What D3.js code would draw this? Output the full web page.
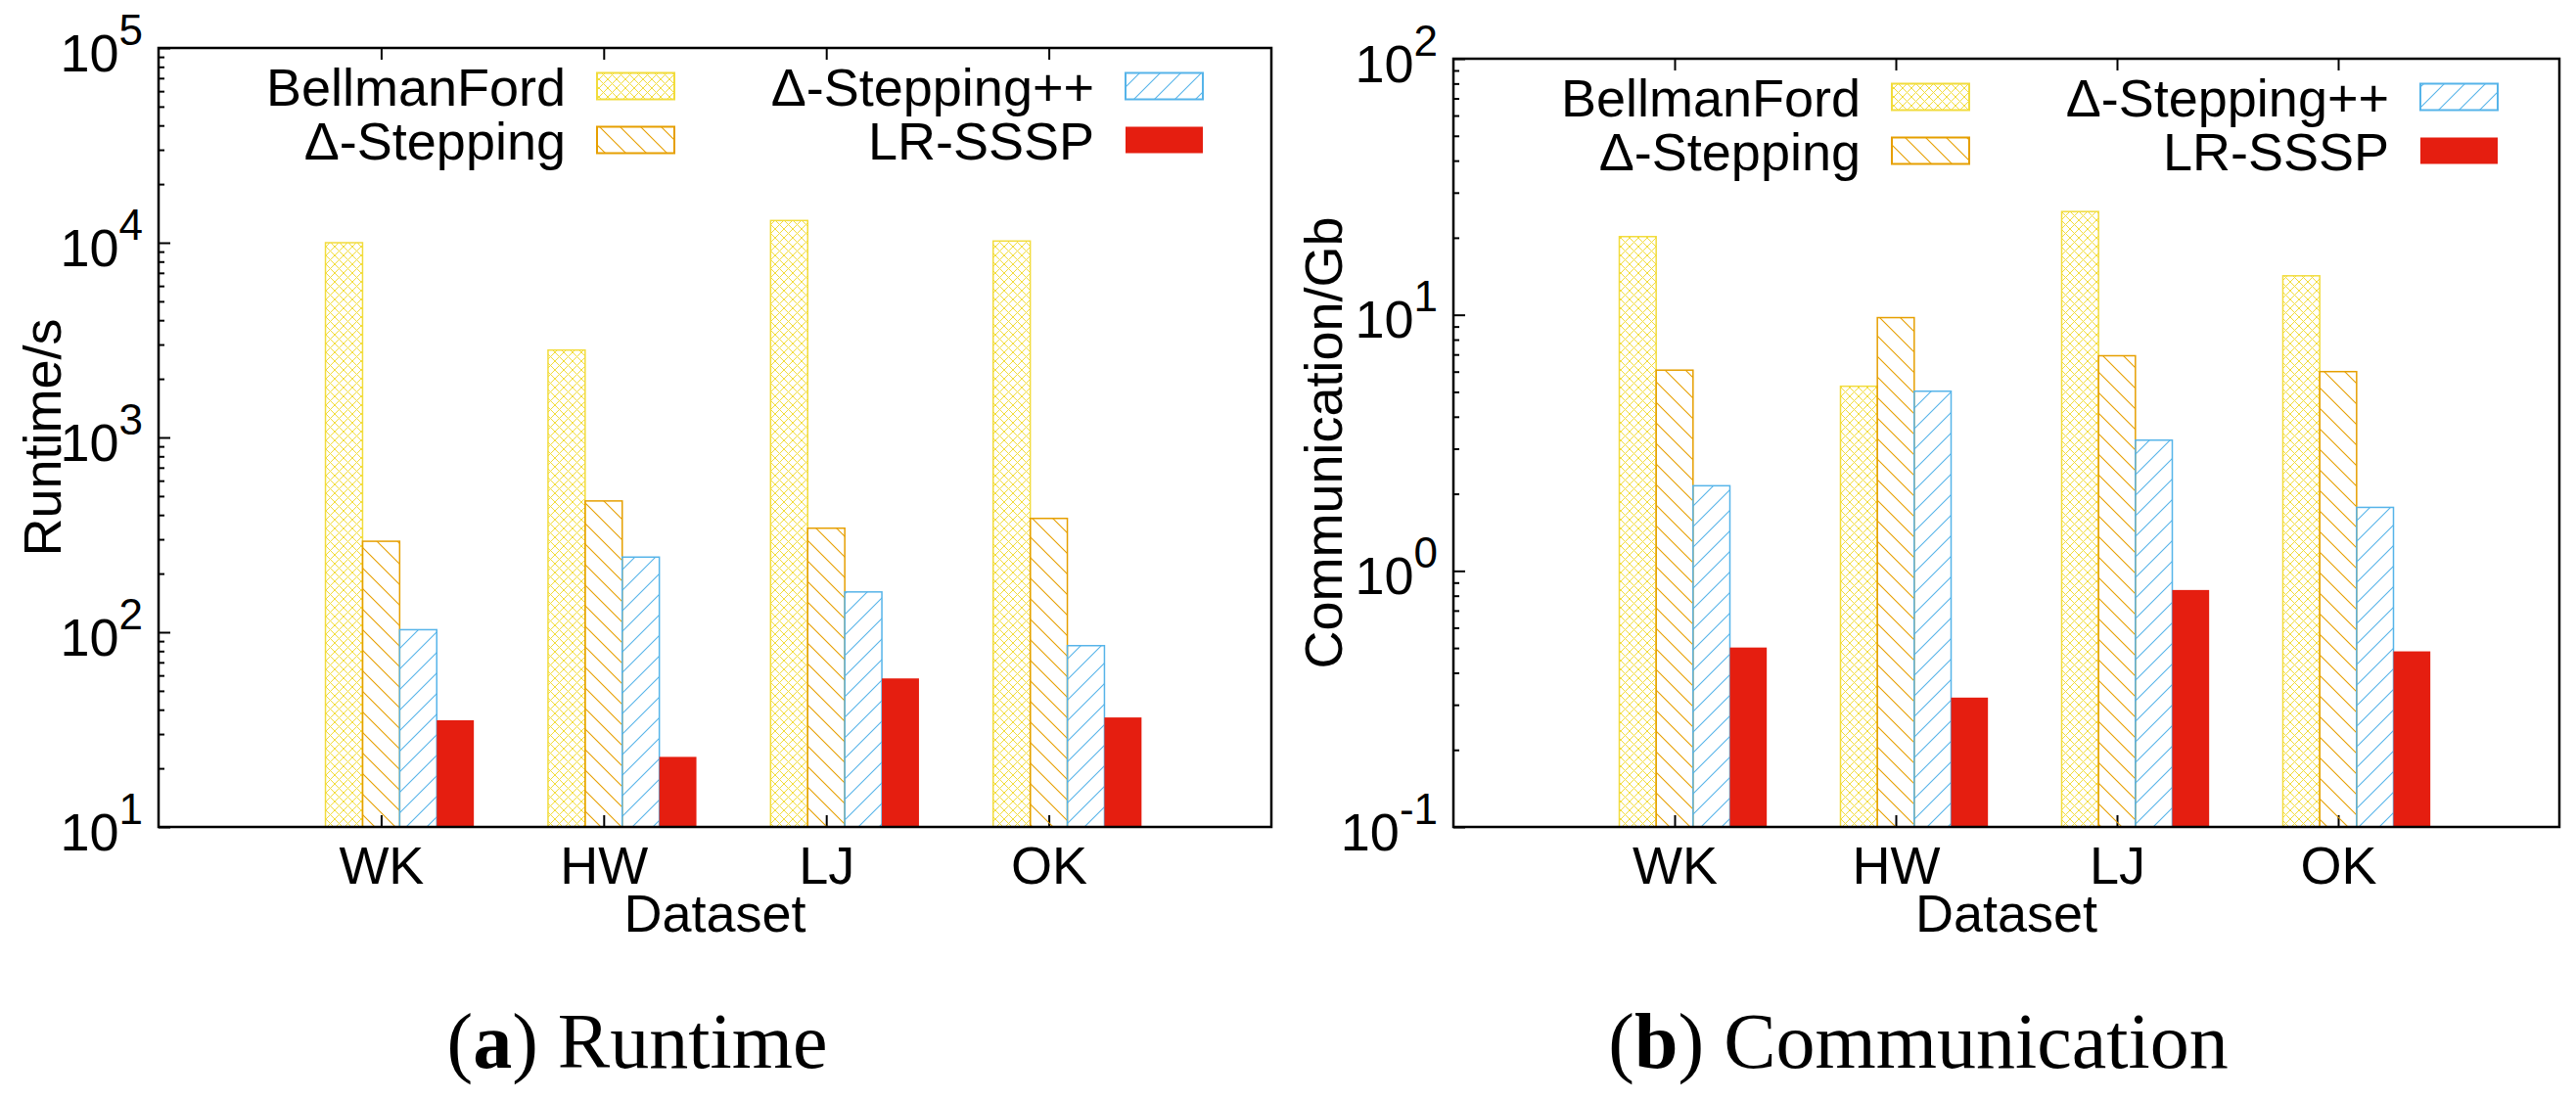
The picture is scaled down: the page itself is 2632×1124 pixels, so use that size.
<!DOCTYPE html>
<html>
<head>
<meta charset="utf-8">
<script src="https://cdn.jsdelivr.net/npm/d3@7"></script>
<style>
  body { margin: 0; background: #fff; }
  text { font-family: "Liberation Sans", Arial, Helvetica, sans-serif; }
  .caption { font-family: "Liberation Serif", "Times New Roman", serif; }
</style>
</head>
<body>
<div id="chart"></div>
<script>
// data
const datasets = ["WK", "HW", "LJ", "OK"];
const algorithms = ["BellmanFord", "Δ-Stepping", "Δ-Stepping++", "LR-SSSP"];

// (a) runtime in seconds
const runtimeBellmanFord = [10000, 2810, 13000, 10200];
const runtimeDelta = [293, 472, 342, 384];
const runtimeDeltaPP = [103, 243, 161, 85.3];
const runtimeLRSSSP = [35.3, 22.9, 57.9, 36.5];
const runtimeTicks = [1e1, 1e2, 1e3, 1e4, 1e5];

// (b) communication in Gb
const commBellmanFord = [20.2, 5.26, 25.3, 14.2];
const commDelta = [6.08, 9.75, 6.92, 6.0];
const commDeltaPP = [2.15, 5.03, 3.24, 1.77];
const commLRSSSP = [0.502, 0.32, 0.842, 0.485];
const commTicks = [1e-1, 1e0, 1e1, 1e2];

const colours = ["#f2dc3c", "#e69f00", "#56b4e9", "#e51e10"];
const fills = ["url(#cross)", "url(#back)", "url(#fwd)", "#e51e10"];

const W = 2632, H = 1124, fs = 54;

const svg = d3.select('#chart').append('svg')
    .attr('width', W)
    .attr('height', H)
    .style('background', '#fff');

// hatch patterns, in page coordinates so they run on across bars
const defs = svg.append('defs');
const cross = defs.append('pattern')
    .attr('id', 'cross').attr('patternUnits', 'userSpaceOnUse')
    .attr('width', 9).attr('height', 9);
cross.append('path')
    .attr('d', 'M0,0L9,9M0,9L9,0')
    .attr('stroke', colours[0]).attr('stroke-width', 1).attr('fill', 'none');

const back = defs.append('pattern')
    .attr('id', 'back').attr('patternUnits', 'userSpaceOnUse')
    .attr('width', 21).attr('height', 21);
back.append('path')
    .attr('d', 'M0,0L21,21M-2,19L2,23M19,-2L23,2')
    .attr('stroke', colours[1]).attr('stroke-width', 1.1).attr('fill', 'none');

const fwd = defs.append('pattern')
    .attr('id', 'fwd').attr('patternUnits', 'userSpaceOnUse')
    .attr('width', 21).attr('height', 21);
fwd.append('path')
    .attr('d', 'M0,21L21,0M-2,2L2,-2M19,23L23,19')
    .attr('stroke', colours[2]).attr('stroke-width', 1.1).attr('fill', 'none');


function drawPanel(p) {
    const g = svg.append('g');

    // x: categories sit at 1..4 on a 0..5 range, y is log
    const x = d3.scaleLinear()
        .domain([0, datasets.length + 1])
        .range([p.left, p.right]);
    const y = d3.scaleLog()
        .domain(p.domain)
        .range([p.bottom, p.top]);
    const bw = (x(1) - x(0)) / 6;

    // minor log ticks 2..9 per decade
    const minors = [];
    d3.range(Math.log10(p.domain[0]), Math.log10(p.domain[1])).forEach(e => {
        for (let k = 2; k < 10; k++) minors.push(k * Math.pow(10, e));
    });

    const style = a => {
        a.select('.domain').remove();
        a.selectAll('.tick line').attr('stroke-width', 2);
    };

    g.append('g')
        .attr('transform', `translate(${p.left},0)`)
        .call(d3.axisLeft(y).tickValues(minors).tickSize(-6).tickFormat(''))
        .call(style);
    g.append('g')
        .attr('transform', `translate(${p.left},0)`)
        .call(d3.axisLeft(y).tickValues(p.ticks).tickSize(-12).tickFormat(''))
        .call(style);

    const catTicks = datasets.map((_, i) => i + 1);
    g.append('g')
        .attr('transform', `translate(0,${p.top})`)
        .call(d3.axisTop(x).tickValues(catTicks).tickSize(-12).tickFormat(''))
        .call(style);
    g.append('g')
        .attr('transform', `translate(0,${p.bottom})`)
        .call(d3.axisBottom(x).tickValues(catTicks).tickSize(-12).tickPadding(20)
            .tickFormat(d => datasets[d - 1]))
        .call(style)
        .attr('font-size', fs)
        .attr('font-family', null)
        .selectAll('text').attr('fill', '#000');

    // bars, one group per algorithm
    p.series.forEach((vals, j) => {
        g.append('g').selectAll('rect')
            .data(vals)
            .join('rect')
                .attr('x', (d, i) => x(i + 1) - 1.5 * bw + j * bw)
                .attr('y', d => y(d))
                .attr('width', bw)
                .attr('height', d => p.bottom - y(d))
                .attr('fill', fills[j])
                .attr('stroke', j === 3 ? 'none' : colours[j])
                .attr('stroke-width', 1.5);
    });

    // frame
    g.append('rect')
        .attr('x', p.left).attr('y', p.top)
        .attr('width', p.right - p.left).attr('height', p.bottom - p.top)
        .attr('fill', 'none').attr('stroke', '#000').attr('stroke-width', 2.5);

    // y tick labels as 10^n
    p.ticks.forEach(t => {
        const lbl = g.append('text')
            .attr('x', p.left - 16)
            .attr('y', y(t) + 23.5)
            .attr('text-anchor', 'end')
            .attr('font-size', fs);
        lbl.append('tspan').text('10');
        lbl.append('tspan')
            .attr('dy', -27)
            .attr('font-size', 44)
            .text(Math.round(Math.log10(t)).toString().replace('-', '-'));
    });

    // axis titles
    g.append('text')
        .attr('x', (p.left + p.right) / 2)
        .attr('y', p.bottom + 107)
        .attr('text-anchor', 'middle')
        .attr('font-size', fs)
        .text('Dataset');
    g.append('text')
        .attr('transform', `translate(${p.ylabelX},${(p.top + p.bottom) / 2}) rotate(-90)`)
        .attr('text-anchor', 'middle')
        .attr('font-size', fs)
        .text(p.ylabel);

    // legend, two columns of two
    const cols = [p.left + 448, p.left + 988];
    const rows = [p.top + 39, p.top + 94];
    algorithms.forEach((name, j) => {
        const cx = cols[Math.floor(j / 2)], cy = rows[j % 2];
        g.append('rect')
            .attr('x', cx).attr('y', cy - 13.5)
            .attr('width', 79).attr('height', 27)
            .attr('fill', fills[j])
            .attr('stroke', j === 3 ? 'none' : colours[j])
            .attr('stroke-width', 2);
        g.append('text')
            .attr('x', cx - 32)
            .attr('y', cy + 19.5)
            .attr('text-anchor', 'end')
            .attr('font-size', fs)
            .text(name);
    });

    // sub-figure caption
    const cap = svg.append('text')
        .attr('class', 'caption')
        .attr('x', p.captionX)
        .attr('y', 1091)
        .attr('text-anchor', 'middle')
        .attr('font-size', 80);
    cap.append('tspan').text('(');
    cap.append('tspan').attr('font-weight', 'bold').text(p.captionTag);
    cap.append('tspan').text(') ' + p.caption);
}

drawPanel({
    left: 162, right: 1299, top: 49, bottom: 845,
    domain: [1e1, 1e5], ticks: runtimeTicks,
    series: [runtimeBellmanFord, runtimeDelta, runtimeDeltaPP, runtimeLRSSSP],
    ylabel: 'Runtime/s', ylabelX: 62,
    captionX: 651, captionTag: 'a', caption: 'Runtime'
});

drawPanel({
    left: 1485, right: 2615, top: 60, bottom: 845,
    domain: [1e-1, 1e2], ticks: commTicks,
    series: [commBellmanFord, commDelta, commDeltaPP, commLRSSSP],
    ylabel: 'Communication/Gb', ylabelX: 1371,
    captionX: 1960, captionTag: 'b', caption: 'Communication'
});
</script>
</body>
</html>
